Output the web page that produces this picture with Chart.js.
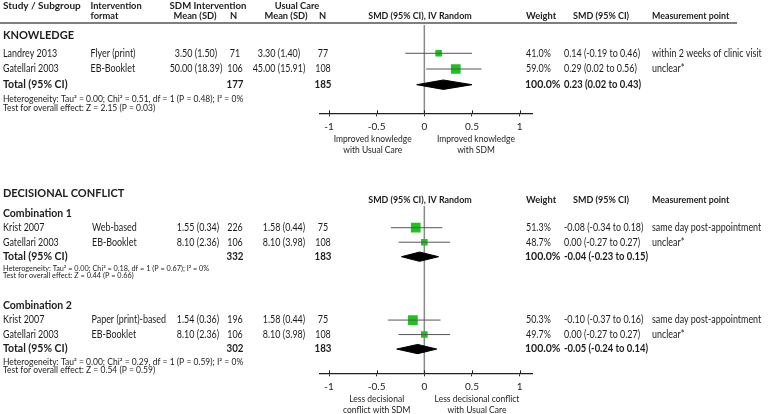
<!DOCTYPE html>
<html>
<head>
<meta charset="utf-8">
<script src="https://cdn.jsdelivr.net/npm/chart.js@4.4.1/dist/chart.umd.min.js"></script>
<style>
  html, body { margin:0; padding:0; background:#fff; }
  #wrap { position:relative; width:778px; height:414px; overflow:hidden; }
  canvas { position:absolute; left:0; }
</style>
</head>
<body>
<div id="wrap">
  <canvas id="c1" width="778" height="178" style="top:0"></canvas>
  <canvas id="c2" width="778" height="236" style="top:178px"></canvas>
</div>
<script>
// ---------------- DATA ----------------
const xTicks = [-1, -0.5, 0, 0.5, 1];

// Knowledge
const knStudies   = ['Landrey 2013', 'Gatellari 2003'];
const knFormats   = ['Flyer (print)', 'EB-Booklet'];
const knSdmMeanSd = ['3.50 (1.50)', '50.00 (18.39)'];
const knSdmN      = [71, 106];
const knUcMeanSd  = ['3.30 (1.40)', '45.00 (15.91)'];
const knUcN       = [77, 108];
const knWeight    = [41.0, 59.0];
const knSmdText   = ['0.14 (-0.19 to 0.46)', '0.29 (0.02 to 0.56)'];
const knMeasure   = ['within 2 weeks of clinic visit', 'unclear*'];
const knSmd       = [0.15, 0.33];
const knLow       = [-0.20, 0.02];
const knHigh      = [0.50, 0.60];
const knTotal     = [-0.08, 0.20, 0.50];   // diamond: low, mid, high (as drawn)
const knTotalN    = [177, 185];
const knTotalText = '0.23 (0.02 to 0.43)';
const knHet       = 'Heterogeneity: Tau\u00b2 = 0.00; Chi\u00b2 = 0.51, df = 1 (P = 0.48); I\u00b2 = 0%';
const knTest      = 'Test for overall effect: Z = 2.15 (P = 0.03)';
const knLabels    = [['Improved knowledge', 'with Usual Care'], ['Improved knowledge', 'with SDM']];

// Decisional conflict - combination 1
const c1Studies   = ['Krist 2007', 'Gatellari 2003'];
const c1Formats   = ['Web-based', 'EB-Booklet'];
const c1SdmMeanSd = ['1.55 (0.34)', '8.10 (2.36)'];
const c1SdmN      = [226, 106];
const c1UcMeanSd  = ['1.58 (0.44)', '8.10 (3.98)'];
const c1UcN       = [75, 108];
const c1Weight    = [51.3, 48.7];
const c1SmdText   = ['-0.08 (-0.34 to 0.18)', '0.00 (-0.27 to 0.27)'];
const c1Measure   = ['same day post-appointment', 'unclear*'];
const c1Smd       = [-0.09, 0.00];
const c1Low       = [-0.35, -0.27];
const c1High      = [0.19, 0.27];
const c1Total     = [-0.24, -0.05, 0.15];
const c1TotalN    = [332, 183];
const c1TotalText = '-0.04 (-0.23 to 0.15)';
const c1Het       = 'Heterogeneity: Tau\u00b2 = 0.00; Chi\u00b2 = 0.18, df = 1 (P = 0.67); I\u00b2 = 0%';
const c1Test      = 'Test for overall effect: Z = 0.44 (P = 0.66)';

// Decisional conflict - combination 2
const c2Studies   = ['Krist 2007', 'Gatellari 2003'];
const c2Formats   = ['Paper (print)-based', 'EB-Booklet'];
const c2SdmMeanSd = ['1.54 (0.36)', '8.10 (2.36)'];
const c2SdmN      = [196, 106];
const c2UcMeanSd  = ['1.58 (0.44)', '8.10 (3.98)'];
const c2UcN       = [75, 108];
const c2Weight    = [50.3, 49.7];
const c2SmdText   = ['-0.10 (-0.37 to 0.16)', '0.00 (-0.27 to 0.27)'];
const c2Measure   = ['same day post-appointment', 'unclear*'];
const c2Smd       = [-0.12, 0.00];
const c2Low       = [-0.38, -0.27];
const c2High      = [0.17, 0.27];
const c2Total     = [-0.29, -0.07, 0.13];
const c2TotalN    = [302, 183];
const c2TotalText = '-0.05 (-0.24 to 0.14)';
const c2Het       = 'Heterogeneity: Tau\u00b2 = 0.00; Chi\u00b2 = 0.29, df = 1 (P = 0.59); I\u00b2 = 0%';
const c2Test      = 'Test for overall effect: Z = 0.54 (P = 0.59)';
const dcLabels    = [['Less decisional', 'conflict with SDM'], ['Less decisional conflict', 'with Usual Care']];

// ---------------- STYLE / LAYOUT ----------------
const FONT = 'Lato, "Open Sans", sans-serif';
const TXT = '#1c1c1c';
const GREEN = '#1ec31e';
const CI_COL = '#555555';
const BIG_BOX = 9.7, SMALL_BOX = 6.6;
const SQ_REG = 0.85, SQ_BOLD = 0.93;

function boxRadius(weights) {
  const mx = Math.max(...weights);
  return weights.map(w => (w === mx ? BIG_BOX : SMALL_BOX) / (2 * Math.SQRT1_2));
}

function forestDatasets(smd, low, high, rows, weights, total, totalRow, halfH) {
  const ds = [];
  smd.forEach((v, i) => {
    ds.push({ data: [{x: low[i], y: rows[i]}, {x: high[i], y: rows[i]}],
      showLine: true, borderColor: CI_COL, borderWidth: 1, pointRadius: 0, fill: false });
  });
  ds.push({ data: smd.map((v, i) => ({x: v, y: rows[i]})),
    pointStyle: 'rect', pointRadius: boxRadius(weights), pointHoverRadius: boxRadius(weights),
    backgroundColor: GREEN, borderColor: GREEN, borderWidth: 0 });
  ds.push({ data: [
      {x: total[0], y: totalRow}, {x: total[1], y: totalRow - halfH},
      {x: total[2], y: totalRow}, {x: total[1], y: totalRow + halfH}, {x: total[0], y: totalRow}],
    showLine: true, fill: 'shape', backgroundColor: '#000', borderColor: '#000', borderWidth: 1,
    pointRadius: 0, tension: 0 });
  return ds;
}

// text helper; sx = horizontal squeeze (Calibri-like narrow look)
function txt(ctx, s, x, y, align, size, bold, sx) {
  ctx.save();
  ctx.font = (bold ? 'bold ' : '') + size + 'px ' + FONT;
  ctx.fillStyle = TXT;
  ctx.textAlign = align;
  ctx.textBaseline = 'middle';
  ctx.translate(x, y);
  ctx.scale(sx || (bold ? SQ_BOLD : SQ_REG), 1);
  ctx.fillText(s, 0, 0);
  ctx.restore();
}

function xScaleOpts() {
  return {
    type: 'linear', min: -1.095, max: 1.13,
    afterBuildTicks: s => { s.ticks = xTicks.map(v => ({value: v})); },
    afterFit: s => { s.height = 20; },
    border: { display: true, color: '#222', width: 1.3 },
    grid: { display: true, drawOnChartArea: false, drawTicks: true, tickLength: 3, color: '#222', lineWidth: 1 },
    ticks: { padding: 4, color: TXT, font: { family: FONT, size: 10 }, maxRotation: 0,
      callback: v => String(v) }
  };
}

const zeroAndTicks = {
  id: 'zeroAndTicks',
  beforeDatasetsDraw(chart) {
    const {ctx, chartArea} = chart, xs = chart.scales.x;
    const x0 = xs.getPixelForValue(0);
    ctx.save();
    ctx.strokeStyle = '#8a8a8a'; ctx.lineWidth = 1.5;
    ctx.beginPath(); ctx.moveTo(x0, chartArea.top); ctx.lineTo(x0, chartArea.bottom); ctx.stroke();
    ctx.restore();
  },
  afterDraw(chart) {
    const {ctx, chartArea} = chart, xs = chart.scales.x;
    ctx.save();
    ctx.strokeStyle = '#222'; ctx.lineWidth = 1;
    xTicks.forEach(v => {
      const px = Math.round(xs.getPixelForValue(v)) + 0.5;
      ctx.beginPath(); ctx.moveTo(px, chartArea.bottom - 3); ctx.lineTo(px, chartArea.bottom); ctx.stroke();
    });
    ctx.restore();
  }
};

function tableRows(ctx, ys, rows, d, cols) {
  rows.forEach((r, i) => {
    const y = ys.getPixelForValue(r);
    txt(ctx, d.studies[i], 3, y, 'left', 10.5);
    txt(ctx, d.formats[i], cols.fmt, y, 'left', 10.5);
    txt(ctx, d.sdm[i], cols.sdm, y, 'center', 10.5);
    txt(ctx, String(d.sdmN[i]), 235, y, 'center', 10.5);
    txt(ctx, d.uc[i], cols.uc, y, 'center', 10.5);
    txt(ctx, String(d.ucN[i]), 323, y, 'center', 10.5);
    txt(ctx, d.weight[i].toFixed(1) + '%', 526, y, 'left', 10.5);
    txt(ctx, d.smdText[i], 564, y, 'left', 10.5);
    txt(ctx, d.measure[i], 652, y, 'left', 10.5);
  });
}
function totalRowText(ctx, y, n, text) {
  txt(ctx, 'Total (95% CI)', 3, y, 'left', 10.5, true, 1);
  txt(ctx, String(n[0]), 235, y, 'center', 10.5, true);
  txt(ctx, String(n[1]), 323, y, 'center', 10.5, true);
  txt(ctx, '100.0%', 525, y, 'left', 10.5, true, 1);
  txt(ctx, text, 564, y, 'left', 10.5, true, 0.9);
}

// ---------------- CHART 1 : KNOWLEDGE ----------------
const knRows = [0, 1, 2];
const knTotalRow = 2;
const text1 = {
  id: 'text1',
  afterDraw(chart) {
    const ctx = chart.ctx, ys = chart.scales.y, xs = chart.scales.x;
    txt(ctx, 'Study / Subgroup', 3, 5.5, 'left', 10, true, 1);
    txt(ctx, 'Intervention', 90.5, 5.5, 'left', 10, true);
    txt(ctx, 'format', 90.5, 16, 'left', 10, true);
    txt(ctx, 'SDM Intervention', 208, 5.5, 'center', 10, true, 0.96);
    txt(ctx, 'Mean (SD)', 195, 16, 'center', 10, true);
    txt(ctx, 'N', 233.5, 16, 'center', 10, true);
    txt(ctx, 'Usual Care', 297, 5.5, 'center', 10, true);
    txt(ctx, 'Mean (SD)', 286, 16, 'center', 10, true);
    txt(ctx, 'N', 322.5, 16, 'center', 10, true);
    txt(ctx, 'SMD (95% CI), IV Random', 420, 16, 'center', 10, true, 0.89);
    txt(ctx, 'Weight', 526, 16, 'left', 10, true);
    txt(ctx, 'SMD (95% CI)', 573, 16, 'left', 10, true, 0.9);
    txt(ctx, 'Measurement point', 652, 16, 'left', 10, true, 0.885);
    ctx.save(); ctx.strokeStyle = '#555'; ctx.lineWidth = 1.6;
    ctx.beginPath(); ctx.moveTo(0, 23); ctx.lineTo(737, 23); ctx.stroke(); ctx.restore();
    txt(ctx, 'KNOWLEDGE', 3, 35, 'left', 11, true, 1);
    tableRows(ctx, ys, knRows.slice(0, 2), {studies: knStudies, formats: knFormats, sdm: knSdmMeanSd,
      sdmN: knSdmN, uc: knUcMeanSd, ucN: knUcN, weight: knWeight, smdText: knSmdText, measure: knMeasure},
      {fmt: 90.5, sdm: 196, uc: 279});
    totalRowText(ctx, ys.getPixelForValue(knTotalRow), knTotalN, knTotalText);
    txt(ctx, knHet, 3, 99.3, 'left', 8.5, false, 1);
    txt(ctx, knTest, 3, 108.3, 'left', 8.5, false, 1);
    const xl = (xs.getPixelForValue(-1) + xs.getPixelForValue(0)) / 2 - 4;
    const xr = (xs.getPixelForValue(0) + xs.getPixelForValue(1)) / 2 + 4;
    txt(ctx, knLabels[0][0], xl, 138.3, 'center', 10);
    txt(ctx, knLabels[0][1], xl, 150, 'center', 10);
    txt(ctx, knLabels[1][0], xr, 138.3, 'center', 10);
    txt(ctx, knLabels[1][1], xr, 150, 'center', 10);
  }
};

new Chart(document.getElementById('c1'), {
  type: 'scatter',
  data: { datasets: forestDatasets(knSmd, knLow, knHigh, knRows.slice(0, 2), knWeight, knTotal, knTotalRow, 0.3) },
  options: {
    responsive: false, animation: false, devicePixelRatio: 1,
    layout: { padding: { left: 320, right: 246, top: 25, bottom: 178 - 113.3 - 20 } },
    plugins: { legend: { display: false }, tooltip: { enabled: false } },
    scales: {
      x: xScaleOpts(),
      y: { type: 'linear', display: false, reverse: true, min: -1.803, max: 3.822 }
    }
  },
  plugins: [zeroAndTicks, text1]
});

// ---------------- CHART 2 : DECISIONAL CONFLICT ----------------
const OFF2 = 178;  // canvas 2 top offset in page
const c1Rows = [0, 1], c1TotalRow = 2;
const c2Rows = [6.37, 7.37], c2TotalRow = 8.37;
const text2 = {
  id: 'text2',
  afterDraw(chart) {
    const ctx = chart.ctx, ys = chart.scales.y, xs = chart.scales.x;
    ctx.save();
    ctx.translate(0, -OFF2);   // below: absolute page coordinates for fixed labels
    txt(ctx, 'DECISIONAL CONFLICT', 3, 193.3, 'left', 11, true, 1);
    txt(ctx, 'SMD (95% CI), IV Random', 420, 199.5, 'center', 10, true, 0.89);
    txt(ctx, 'Weight', 526, 199.5, 'left', 10, true);
    txt(ctx, 'SMD (95% CI)', 573, 199.5, 'left', 10, true, 0.9);
    txt(ctx, 'Measurement point', 652, 199.5, 'left', 10, true, 0.885);
    txt(ctx, 'Combination 1', 3, 213.3, 'left', 10.5, true, 1);
    txt(ctx, c1Het, 3, 269, 'left', 7.3, false, 1);
    txt(ctx, c1Test, 3, 275.5, 'left', 7.3, false, 1);
    txt(ctx, 'Combination 2', 3, 305.7, 'left', 10.5, true, 1);
    txt(ctx, c2Het, 3, 362.7, 'left', 8.5, false, 1);
    txt(ctx, c2Test, 3, 370.7, 'left', 8.5, false, 1);
    const xl = (xs.getPixelForValue(-1) + xs.getPixelForValue(0)) / 2;
    const xr = (xs.getPixelForValue(0) + xs.getPixelForValue(1)) / 2 + 5;
    txt(ctx, dcLabels[0][0], xl, 398.3, 'center', 10);
    txt(ctx, dcLabels[0][1], xl, 409.5, 'center', 10);
    txt(ctx, dcLabels[1][0], xr, 398.3, 'center', 10);
    txt(ctx, dcLabels[1][1], xr, 409.5, 'center', 10);
    ctx.restore();
    tableRows(ctx, ys, c1Rows, {studies: c1Studies, formats: c1Formats, sdm: c1SdmMeanSd,
      sdmN: c1SdmN, uc: c1UcMeanSd, ucN: c1UcN, weight: c1Weight, smdText: c1SmdText, measure: c1Measure},
      {fmt: 92, sdm: 198, uc: 284});
    totalRowText(ctx, ys.getPixelForValue(c1TotalRow), c1TotalN, c1TotalText);
    tableRows(ctx, ys, c2Rows, {studies: c2Studies, formats: c2Formats, sdm: c2SdmMeanSd,
      sdmN: c2SdmN, uc: c2UcMeanSd, ucN: c2UcN, weight: c2Weight, smdText: c2SmdText, measure: c2Measure},
      {fmt: 91.5, sdm: 198, uc: 284});
    totalRowText(ctx, ys.getPixelForValue(c2TotalRow), c2TotalN, c2TotalText);
  }
};

new Chart(document.getElementById('c2'), {
  type: 'scatter',
  data: { datasets: [
    ...forestDatasets(c1Smd, c1Low, c1High, c1Rows, c1Weight, c1Total, c1TotalRow, 0.32),
    ...forestDatasets(c2Smd, c2Low, c2High, c2Rows, c2Weight, c2Total, c2TotalRow, 0.32)
  ] },
  options: {
    responsive: false, animation: false, devicePixelRatio: 1,
    layout: { padding: { left: 320, right: 246, top: 206 - OFF2, bottom: 414 - 373.3 - 20 } },
    plugins: { legend: { display: false }, tooltip: { enabled: false } },
    scales: {
      x: xScaleOpts(),
      y: { type: 'linear', display: false, reverse: true, min: -1.497, max: 10.041 }
    }
  },
  plugins: [zeroAndTicks, text2]
});
</script>
</body>
</html>
